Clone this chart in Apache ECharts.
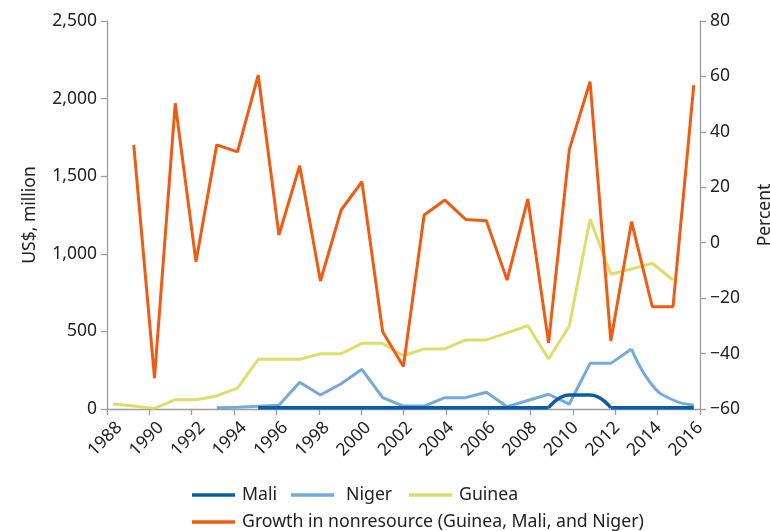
<!DOCTYPE html>
<html>
<head>
<meta charset="utf-8">
<script src="https://cdn.jsdelivr.net/npm/echarts@6/dist/echarts.min.js"></script>
<style>
html,body{margin:0;padding:0;background:#fff;}
#chart{width:770px;height:531px;}
</style>
</head>
<body>
<div id="chart"></div>
<script>
// ---- data ----
const years = [1988,1989,1990,1991,1992,1993,1994,1995,1996,1997,1998,1999,2000,2001,2002,2003,2004,2005,2006,2007,2008,2009,2010,2011,2012,2013,2014,2015,2016];
const tickLabels = [1988,1990,1992,1994,1996,1998,2000,2002,2004,2006,2008,2010,2012,2014,2016];
const mali = [null,null,null,null,null,null,null,8,8,8,8,8,8,8,8,8,8,8,8,8,8,8,90,90,8,8,8,8,8];
const maliSmoothYears = [2009,2010,2011,2012];
const niger = [null,null,null,null,null,8,12,17,24,172,90,163,256,73,19,19,73,73,108,15,55,95,32,294,294,387,153,58,26];
const nigerSmoothYears = [2013,2014,2015,2016];
const guinea = [32,19,4,60,60,84,135,320,320,320,356,356,423,423,343,387,387,445,445,490,537,322,535,1224,868,902,939,831,null];
const growth = [null,35.3,-48.9,50.3,-6.9,35.3,32.8,60.5,2.8,27.8,-13.8,11.8,22.0,-32.1,-44.7,10.0,15.4,8.4,7.9,-13.5,15.8,-36.1,33.7,58.1,-35.5,7.6,-23.1,-23.1,56.9];

// ---- helpers ----
function pairs(vals){ return years.map((y,i)=>[y, vals[i]]); }
function smoothPart(vals, smoothYears){
  return smoothYears.map(y=>[y, vals[years.indexOf(y)]]);
}
function maliStraight(){
  return years.map((y,i)=>{
    if (y > maliSmoothYears[0] && y < maliSmoothYears[maliSmoothYears.length-1]) return [y, null];
    return [y, mali[i]];
  });
}
function nigerStraight(){
  return years.map((y,i)=>{
    if (y > nigerSmoothYears[0]) return [y, null];
    return [y, niger[i]];
  });
}

const XMIN = 1987.71, XMAX = 2016.30;
const xTicks = [];
for (let k=0;k<=14;k++) xTicks.push(XMIN + k*(XMAX-XMIN)/14);
const LABEL_SHIFT = 0.3; // label anchor offset (in axis units), matches the reference's label placement
const labelPos = tickLabels.map(y=>y + LABEL_SHIFT);

const C_MALI = '#0b5ca8', C_NIGER = '#74a9de', C_GUINEA = '#dedd6b', C_GROWTH = '#ef5b12';
const FONT = 'Noto Sans';
const txt = {color:'#222', fontFamily:FONT, fontSize:17.5};
const ltxt = {color:'#222', fontFamily:FONT, fontSize:17.7};
const axisLine = {show:true, lineStyle:{color:'#9d9d9d', width:1.3}};
const tick = {show:true, length:6, lineStyle:{color:'#9d9d9d', width:1.3}};

const chart = echarts.init(document.getElementById('chart'), null, {renderer:'canvas'});
chart.setOption({
  animation:false,
  backgroundColor:'#fff',
  textStyle:{fontFamily:FONT},
  grid:{left:107, right:70, top:21, bottom:122, containLabel:false, outerBoundsMode:'none'},
  xAxis:{
    type:'value', min:XMIN, max:XMAX,
    axisLine: axisLine,
    axisTick:Object.assign({customValues:xTicks}, tick),
    axisLabel:Object.assign({rotate:45, margin:16, customValues:labelPos, formatter:v=>String(Math.round(v - LABEL_SHIFT))}, txt),
    splitLine:{show:false}
  },
  yAxis:[
    {type:'value', min:0, max:2500, interval:500, position:'left',
     name:'US$, million', nameLocation:'middle', nameGap:68, nameRotate:90,
     nameTextStyle:Object.assign({}, txt),
     axisLine:axisLine, axisTick:tick,
     axisLabel:Object.assign({margin:10, formatter:v=>v.toLocaleString('en-US')}, txt),
     splitLine:{show:false}},
    {type:'value', min:-60, max:80, interval:20, position:'right',
     name:'Percent', nameLocation:'middle', nameGap:56, nameRotate:90,
     nameTextStyle:Object.assign({}, txt),
     axisLine:axisLine, axisTick:tick,
     axisLabel:Object.assign({margin:10, formatter:v=>String(v).replace('-', '\u2212')}, txt),
     splitLine:{show:false}}
  ],
  legend:[
    {data:['Mali'], left:192, top:486, padding:0, icon:'rect', itemWidth:43, itemHeight:3.5, textStyle:Object.assign({padding:[0,0,0,2]}, ltxt)},
    {data:['Niger'], left:291, top:486, padding:0, icon:'rect', itemWidth:43, itemHeight:3.5, textStyle:Object.assign({padding:[0,0,0,7]}, ltxt)},
    {data:['Guinea'], left:409, top:486, padding:0, icon:'rect', itemWidth:43, itemHeight:3.5, textStyle:Object.assign({padding:[0,0,0,2]}, ltxt)},
    {data:['Growth in nonresource (Guinea, Mali, and Niger)'], left:192, top:513, padding:0, icon:'rect', itemWidth:43, itemHeight:3.5, textStyle:Object.assign({padding:[0,0,0,2]}, ltxt)}
  ],
  series:[
    {name:'Guinea', type:'line', yAxisIndex:0, data:pairs(guinea), symbol:'none',
     lineStyle:{color:C_GUINEA, width:3}, itemStyle:{color:C_GUINEA}},
    {name:'Niger', type:'line', yAxisIndex:0, data:nigerStraight(), symbol:'none',
     lineStyle:{color:C_NIGER, width:3}, itemStyle:{color:C_NIGER}},
    {name:'Niger', type:'line', yAxisIndex:0, data:smoothPart(niger, nigerSmoothYears), symbol:'none', smooth:0.5,
     lineStyle:{color:C_NIGER, width:3}, itemStyle:{color:C_NIGER}},
    {name:'Mali', type:'line', yAxisIndex:0, data:maliStraight(), symbol:'none',
     lineStyle:{color:C_MALI, width:3.5}, itemStyle:{color:C_MALI}},
    {name:'Mali', type:'line', yAxisIndex:0, data:smoothPart(mali, maliSmoothYears), symbol:'none', smooth:0.5,
     lineStyle:{color:C_MALI, width:3.5}, itemStyle:{color:C_MALI}},
    {name:'Growth in nonresource (Guinea, Mali, and Niger)', type:'line', yAxisIndex:1, data:pairs(growth), symbol:'none',
     lineStyle:{color:C_GROWTH, width:3}, itemStyle:{color:C_GROWTH}}
  ]
});
</script>
</body>
</html>
